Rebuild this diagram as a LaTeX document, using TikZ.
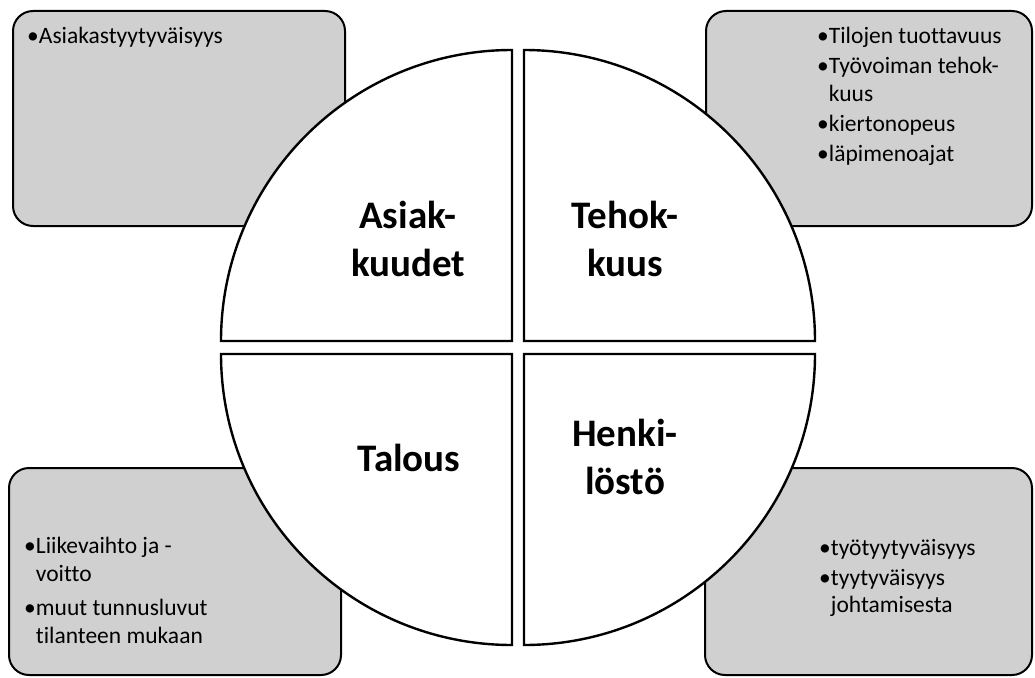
\documentclass[tikz,border=0pt]{standalone}
\usepackage{fontspec}
\setmainfont[Ligatures=NoCommon]{Carlito}
\usepackage{tikz}

\definecolor{boxgray}{RGB}{208,208,208}

\tikzset{
  infobox/.style={draw=black,line width=2pt,fill=boxgray,rounded corners=20pt},
  pie/.style={draw=black,line width=2.4pt,fill=white,line join=miter},
  piehead/.style={font=\fontsize{39}{48}\selectfont\bfseries,align=center,inner sep=0pt},
  boxtext/.style={font=\fontsize{23.5}{27.5}\selectfont,align=left,inner sep=0pt,anchor=north west}
}

\begin{document}
\begin{tikzpicture}[x=1pt,y=-1pt]
\useasboundingbox (0,0) rectangle (1035,677);

% the four boxes in the corners
\draw[infobox] (13,11) rectangle (345,226);
\draw[infobox] (706,11) rectangle (1032,226);
\draw[infobox] (9,468) rectangle (341,675);
\draw[infobox] (705,468) rectangle (1032,675);

\node[boxtext] (asiakbox) at (27,27) {•Asiakastyytyväisyys};
\node[boxtext] (tehokbox) at (817,27) {•Tilojen tuottavuus\\[2.5pt]
  •Työvoiman tehok-\\\hphantom{•}kuus\\[2.5pt]
  •kiertonopeus\\[2.5pt]
  •läpimenoajat};
\node[boxtext] (talousbox) at (24,537) {•Liikevaihto ja -\\\hphantom{•}voitto\\[7pt]
  •muut tunnusluvut\\\hphantom{•}tilanteen mukaan};
\node[boxtext] (henkibox) at (819,539) {•työtyytyväisyys\\[2.5pt]
  •tyytyväisyys\\\hphantom{•}johtamisesta};

% the circle in four pieces
\draw[pie] (512,341) -- ++(-291pt,0pt) arc[start angle=180,end angle=90,radius=291pt] -- cycle;
\draw[pie] (524,341) -- ++(0pt,291pt) arc[start angle=90,end angle=0,radius=291pt] -- cycle;
\draw[pie] (524,354) -- ++(291pt,0pt) arc[start angle=0,end angle=-90,radius=291pt] -- cycle;
\draw[pie] (512,354) -- ++(0pt,-291pt) arc[start angle=270,end angle=180,radius=291pt] -- cycle;

\node[piehead] (asiak) at (408,239) {Asiak-\\kuudet};
\node[piehead] (tehok) at (625,239) {Tehok-\\kuus};
\node[piehead] (talous) at (409,458) {Talous};
\node[piehead] (henki) at (625,457) {Henki-\\löstö};
\end{tikzpicture}
\end{document}
